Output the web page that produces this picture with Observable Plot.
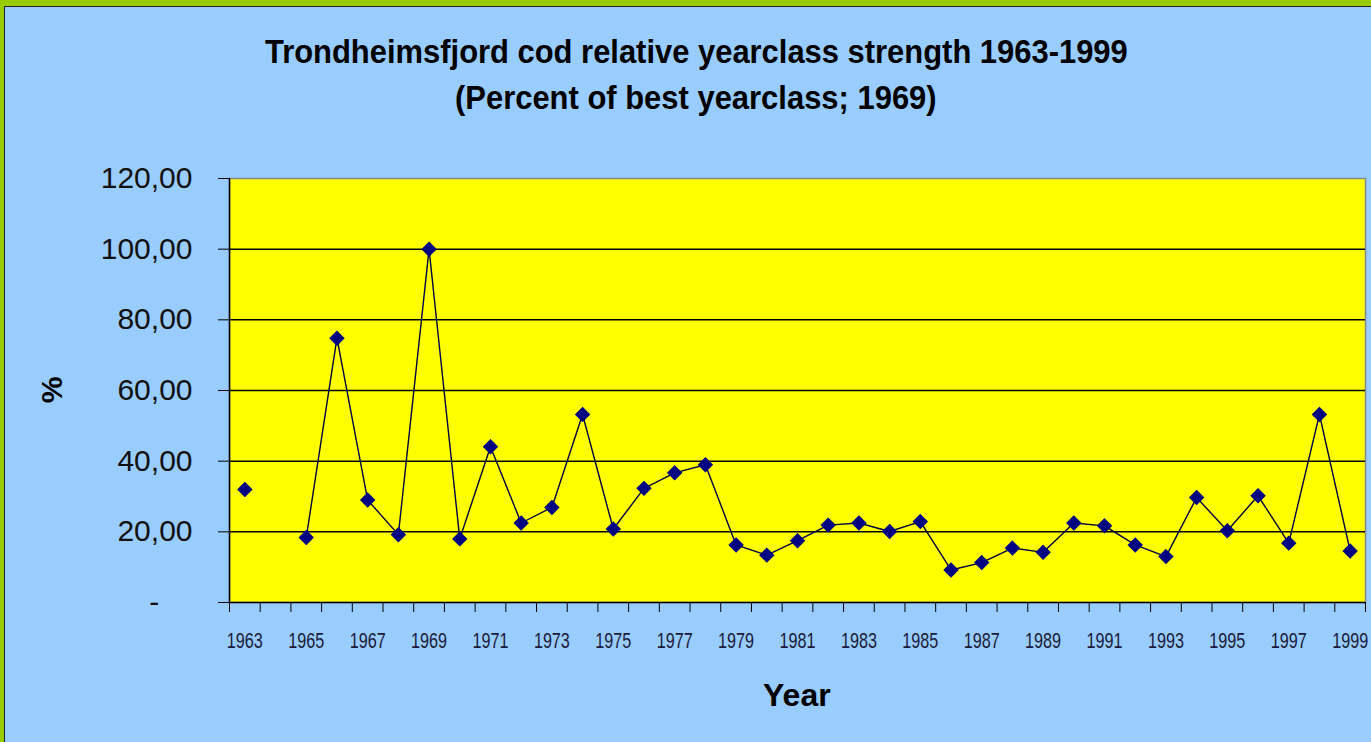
<!DOCTYPE html>
<html><head><meta charset="utf-8">
<script src="https://cdn.jsdelivr.net/npm/d3@7"></script>
<script src="https://cdn.jsdelivr.net/npm/@observablehq/plot@0.6"></script>
<style>
body{margin:0;}
#page{position:relative;width:1371px;height:742px;background:#99CC00;overflow:hidden;font-family:Arial,"Liberation Sans",sans-serif;}
#inner{position:absolute;left:4px;top:6px;right:0;bottom:0;background:#99CCFF;border-left:1.5px solid #222;border-top:1.5px solid #222;}
.t{position:absolute;white-space:nowrap;font-weight:bold;color:#000;transform-origin:center center;line-height:1;}
#chart{position:absolute;left:0;top:0;}
</style></head>
<body><div id="page"><div id="inner"></div>
<div id="chart"></div>
<div class="t" id="t1" style="font-size:33px">Trondheimsfjord cod relative yearclass strength 1963-1999</div>
<div class="t" id="t2" style="font-size:33px">(Percent of best yearclass; 1969)</div>
<div class="t" id="xl" style="font-size:32px">Year</div>
<div class="t" id="yl" style="font-size:30px">%</div>
</div>
<script>
const years = [1963,1964,1965,1966,1967,1968,1969,1970,1971,1972,1973,1974,1975,1976,1977,1978,1979,1980,1981,1982,1983,1984,1985,1986,1987,1988,1989,1990,1991,1992,1993,1994,1995,1996,1997,1998,1999];
const strength = [32.0,null,18.4,74.8,29.0,19.2,100.0,18.0,44.1,22.5,26.9,53.2,20.8,32.3,36.7,39.0,16.3,13.4,17.5,21.9,22.5,20.1,22.9,9.2,11.3,15.4,14.2,22.5,21.7,16.3,13.0,29.7,20.3,30.2,16.8,53.2,14.6];
const yearLabels = [1963,1965,1967,1969,1971,1973,1975,1977,1979,1981,1983,1985,1987,1989,1991,1993,1995,1997,1999];
const yTicks = [0,20,40,60,80,100,120];

const data = years.map((year,i)=>({year, value: strength[i]}));
const edges = years.map(y=>y-0.5).concat([years[years.length-1]+0.5]);

const chart = Plot.plot({
  width:1371, height:742,
  marginLeft:229, marginRight:6, marginTop:178, marginBottom:140,
  style:{background:"transparent", fontFamily:"Arial, 'Liberation Sans', sans-serif", color:"#000", overflow:"visible"},
  x:{type:"linear", domain:[edges[0], edges[edges.length-1]], axis:null},
  y:{domain:[0,120], axis:null},
  marks:[
    Plot.frame({fill:"#FFFF00", stroke:"#888", strokeWidth:1.5}),
    Plot.ruleY(yTicks.filter(d=>d>0 && d<120), {stroke:"#000", strokeWidth:1.5}),
    Plot.axisY(yTicks, {tickSize:11, tickPadding:26, fontSize:30, fill:"#111", label:null,
      tickFormat:d=> d===0 ? "-\u2007\u2007" : d.toFixed(2).replace(".",",")}),
    Plot.axisX(edges, {tickSize:10, tickFormat:()=>"", label:null}),
    Plot.axisX(yearLabels, {tickSize:0, tickPadding:30, fontSize:22, fontFamily:"'Liberation Sans Narrow', 'Arial Narrow', Arial, sans-serif",
      fill:"#1a1a3a", label:null, tickFormat:d=>String(d)}),
    Plot.ruleX([edges[0]], {stroke:"#000", strokeWidth:1.5}),
    Plot.ruleY([0], {stroke:"#000", strokeWidth:1.5}),
    Plot.line(data, {x:"year", y:"value", stroke:"#000040", strokeWidth:1.4}),
    Plot.dot(data, {x:"year", y:"value", symbol:"diamond2", r:6, fill:"#000080", stroke:"#000080"})
  ]
});
document.getElementById("chart").appendChild(chart);

// condense the year tick labels like the original
chart.querySelectorAll('g[aria-label="x-axis tick label"] text').forEach(t=>{
  if (t.textContent.trim() !== "") {
    t.setAttribute("textLength", "36");
    t.setAttribute("lengthAdjust", "spacingAndGlyphs");
  }
});

function place(id, cx, cy, targetW, rot){
  const el = document.getElementById(id);
  const w = el.offsetWidth, h = el.offsetHeight;
  el.style.left = (cx - w/2) + "px";
  el.style.top = (cy - h/2) + "px";
  let tr = "";
  if (rot) tr += `rotate(${rot}deg) `;
  if (targetW) tr += `scaleX(${targetW / w})`;
  el.style.transform = tr;
}
place("t1", 696, 51, 863);
place("t2", 696, 97, 482);
place("xl", 797, 695);
place("yl", 52, 390, null, -90);
</script>
</body></html>
